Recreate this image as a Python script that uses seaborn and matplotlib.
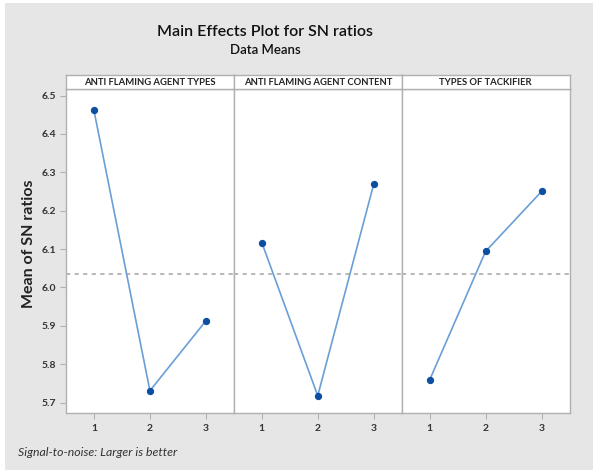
import matplotlib
matplotlib.use("Agg")
import matplotlib.pyplot as plt
import seaborn as sns
import pandas as pd
import numpy as np
from matplotlib.patches import Rectangle

# Main effects of each factor on the signal-to-noise ratio
factors = ["ANTI FLAMING AGENT TYPES", "ANTI FLAMING AGENT CONTENT", "TYPES OF TACKIFIER"]
levels = [1, 2, 3]
sn_types = [6.461, 5.731, 5.913]
sn_content = [6.117, 5.718, 6.269]
sn_tackifier = [5.759, 6.094, 6.250]
y_ticks = [5.7, 5.8, 5.9, 6.0, 6.1, 6.2, 6.3, 6.4, 6.5]

df = pd.DataFrame({
    "factor": np.repeat(factors, len(levels)),
    "level": levels * len(factors),
    "sn": sn_types + sn_content + sn_tackifier,
})
grand_mean = df["sn"].mean()

sns.set_theme(style="white")
plt.rcParams["font.family"] = ["Lato", "DejaVu Sans"]

W, H = 593, 472
fig = plt.figure(figsize=(W / 100, H / 100), dpi=100)
fig.patch.set_facecolor("white")
fig.add_artist(Rectangle((5 / W, 2 / H), 588 / W, 467 / H, transform=fig.transFigure,
                         facecolor="#e6e6e6", edgecolor="none", zorder=-10))

line_col = "#6a9fd6"
dot_col = "#0b4ea2"
frame_col = "#b0b0b0"
text_col = "#333333"

x0, x1 = 66, 569.5
pw = (x1 - x0) / 3
top, bottom, strip_h = 89, 413, 14

for i, fac in enumerate(factors):
    left = x0 + i * pw
    ax = fig.add_axes([left / W, 1 - bottom / H, pw / W, (bottom - top) / H])
    ax.set_facecolor("white")
    sub = df[df["factor"] == fac]
    ax.axhline(grand_mean, color="#b8b8b8", lw=1.4, ls=(0, (2.2, 2.2)), zorder=1)
    sns.lineplot(data=sub, x="level", y="sn", ax=ax, color=line_col, lw=1.2,
                 marker="o", markersize=4.5, markerfacecolor=dot_col,
                 markeredgecolor=dot_col, zorder=3)
    ax.set_xlim(0.5, 3.5)
    ax.set_ylim(5.673, 6.517)
    ax.set_xticks(levels)
    ax.set_xticklabels([str(l) for l in levels], fontsize=7.5, color=text_col, fontweight="bold")
    ax.set_xlabel("")
    ax.set_ylabel("")
    for sp in ax.spines.values():
        sp.set_color(frame_col)
        sp.set_linewidth(1.0)
    ax.tick_params(axis="x", direction="out", length=4, width=0.8, color=frame_col, pad=4, bottom=True)
    if i == 0:
        ax.set_yticks(y_ticks)
        ax.set_yticklabels([f"{v:.1f}" for v in y_ticks], fontsize=7.5, color=text_col, fontweight="bold")
        ax.tick_params(axis="y", direction="out", length=4, width=0.8, color=frame_col, pad=3, left=True)
    else:
        ax.set_yticks([])

    strip = fig.add_axes([left / W, 1 - top / H, pw / W, strip_h / H])
    strip.set_facecolor("white")
    strip.set_xticks([])
    strip.set_yticks([])
    for sp in strip.spines.values():
        sp.set_color(frame_col)
        sp.set_linewidth(1.0)
    strip.text(0.5, 0.45, fac, ha="center", va="center", fontsize=6.8,
               color="#222222", fontweight="bold", transform=strip.transAxes)

fig.text(265 / W, 1 - 32 / H, "Main Effects Plot for SN ratios", ha="center", va="center",
         fontsize=11.5, fontweight="semibold", color="#111111")
fig.text(265 / W, 1 - 50 / H, "Data Means", ha="center", va="center",
         fontsize=9.5, fontweight="semibold", color="#111111")
fig.text(29 / W, 1 - 243.5 / H, "Mean of SN ratios", ha="center", va="center",
         rotation=90, fontsize=11.5, fontweight="bold", color="#222222")
fig.text(18 / W, 1 - 453 / H, "Signal-to-noise: Larger is better", ha="left", va="center",
         fontsize=8.8, style="italic", color="#333333")

fig.savefig("out.png", dpi=100, facecolor=fig.get_facecolor())
